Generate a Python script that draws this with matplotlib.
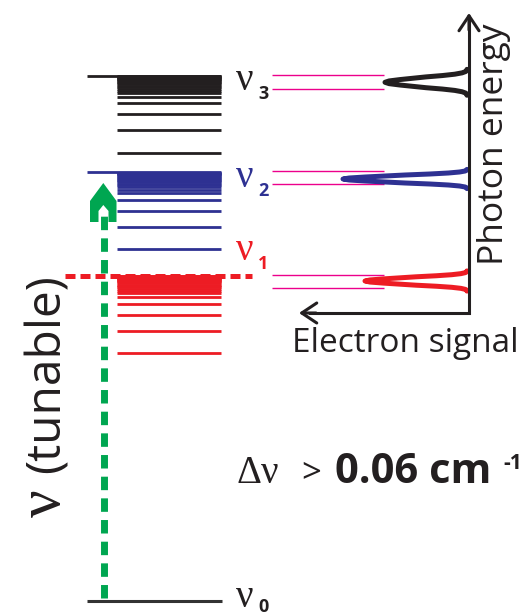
import matplotlib.pyplot as plt
import numpy as np

plt.rcParams['lines.scale_dashes'] = False

BLACK = '#231f20'
BLUE = '#2e3192'
RED = '#ed1c24'
PINK = '#ec008c'
GREEN = '#00a651'
SANS = 'Open Sans'
SERIF = 'Liberation Serif'

# vertical positions are pixel heights above the bottom edge (energy goes up)
level_names = ['0', '1', '2', '3']
level_limits = [14.3, 339.0, 442.7, 539.3]
level_colors = ['#333333', RED, BLUE, BLACK]
label_base = [8, 355, 428, 525]
sub_base = [3, 346, 419, 516]

# sub-levels of each series, distance below the series limit
sub_offsets = [77, 54.5, 38.5, 27.5, 21, 17.2, 15, 13, 11.3, 9.8, 8.5, 7.3,
               6.2, 5.2, 4.3, 3.5, 2.8, 2.1, 1.5, 0.9, 0.4]

# photoelectron peaks (nu1, nu2, nu3)
peak_centers = [334.0, 436.0, 532.7]
peak_heights = [102, 124, 82]
peak_widths = [1.05, 1.0, 1.35]
peak_colors = [RED, BLUE, BLACK]
pink_top = [340.0, 444.0, 540.0]
pink_bot = [326.7, 430.7, 525.7]

# half profile of a peak (offset px -> fraction of height)
prof_off = [0, 1, 2, 3, 4, 5, 6, 7, 8, 9, 9.6]
prof_val = [1.0, 0.95, 0.82, 0.66, 0.5, 0.3, 0.15, 0.06, 0.015, 0.0, 0.0]

fig = plt.figure(figsize=(5.21, 6.15), dpi=100)
ax = fig.add_axes([0, 0, 1, 1])
ax.set_xlim(0, 521)
ax.set_ylim(0, 615)
ax.axis('off')

# ---- energy levels ----
for i, lim in enumerate(level_limits):
    col = level_colors[i]
    if i == 0:
        ax.hlines(lim, 87, 222, color=col, lw=2.2)
    else:
        for off in sub_offsets:
            ax.hlines(lim - off, 117, 221, color=col, lw=2.0)
        if i == 1:
            ax.hlines(lim, 117, 221, color=col, lw=2.0)
            ax.plot([65, 252], [lim, lim], color=RED, lw=3.6,
                    ls=(0, (7.2, 3.6)), solid_capstyle='butt', zorder=3)
        else:
            ax.hlines(lim, 87, 221, color=col, lw=2.0)
    tcol = col if i else BLACK
    ax.text(236, label_base[i], 'ν', fontfamily=SERIF, fontsize=28,
            color=tcol, ha='left', va='baseline')
    ax.text(258, sub_base[i], level_names[i], fontfamily=SANS,
            fontweight='bold', fontsize=13, color=tcol,
            ha='left', va='baseline')

# ---- tunable laser arrow ----
ax_x = 103.5
ax.plot([ax_x, ax_x], [17, 401], color=GREEN, lw=5.0,
        ls=(0, (9.7, 5.9)), dash_capstyle='butt', zorder=5)
head = np.array([[103.3, 432], [116.5, 414], [116.5, 393], [90, 393], [90, 414]])
notch = np.array([[103.3, 410], [108.5, 404], [108.5, 392], [98.5, 392], [98.5, 404]])
ax.fill(head[:, 0], head[:, 1], color=GREEN, lw=0, zorder=4)
ax.fill(notch[:, 0], notch[:, 1], color='white', lw=0, zorder=4.5)

ax.text(60, 142, '(tunable)', fontfamily=SANS, fontsize=34.5, color=BLACK,
        rotation=90, rotation_mode='anchor', ha='left', va='baseline')
ax.text(60, 98, 'ν', fontfamily=SERIF, fontsize=44, color=BLACK,
        rotation=90, rotation_mode='anchor', ha='left', va='baseline')

# ---- spectrum panel ----
axis_x, axis_y = 469, 302
for k in range(3):
    ax.hlines([pink_top[k], pink_bot[k]], 272, 384, color=PINK, lw=1.0)
    off = np.array(prof_off) * peak_widths[k]
    val = np.array(prof_val)
    yy = np.concatenate([peak_centers[k] - off[::-1], peak_centers[k] + off[1:]])
    vv = np.concatenate([val[::-1], val[1:]])
    ax.plot(axis_x - 2 - peak_heights[k] * vv, yy, color=peak_colors[k], lw=3.6,
            solid_capstyle='round', solid_joinstyle='round', zorder=6)

ax.plot([310, axis_x, axis_x], [axis_y, axis_y, 595], color=BLACK, lw=2.2,
        solid_joinstyle='miter', zorder=7)
arrow = dict(arrowstyle='->, head_length=1.08, head_width=0.72', lw=2.2,
             color=BLACK, shrinkA=0, shrinkB=0)
ax.annotate('', xy=(axis_x, 602), xytext=(axis_x, 585), arrowprops=arrow, zorder=7)
ax.annotate('', xy=(299, axis_y), xytext=(316, axis_y), arrowprops=arrow, zorder=7)

ax.text(503, 350, 'Photon energy', fontfamily=SANS, fontsize=25.5, color=BLACK,
        rotation=90, rotation_mode='anchor', ha='left', va='baseline')
ax.text(292, 263.3, 'Electron signal', fontfamily=SANS, fontsize=24, color=BLACK,
        ha='left', va='baseline')

# ---- resolution ----
ax.text(236, 132, 'Δν', fontfamily=SERIF, fontsize=28, color=BLACK,
        ha='left', va='baseline')
ax.text(301, 133, '>', fontfamily=SANS, fontsize=25, color=BLACK,
        ha='left', va='baseline')
ax.text(335, 132, '0.06 cm', fontfamily=SANS, fontweight='bold', fontsize=30,
        color=BLACK, ha='left', va='baseline')
ax.text(503, 146, '-1', fontfamily=SANS, fontweight='bold', fontsize=15,
        color=BLACK, ha='left', va='baseline')

fig.savefig('out.png', dpi=100)
